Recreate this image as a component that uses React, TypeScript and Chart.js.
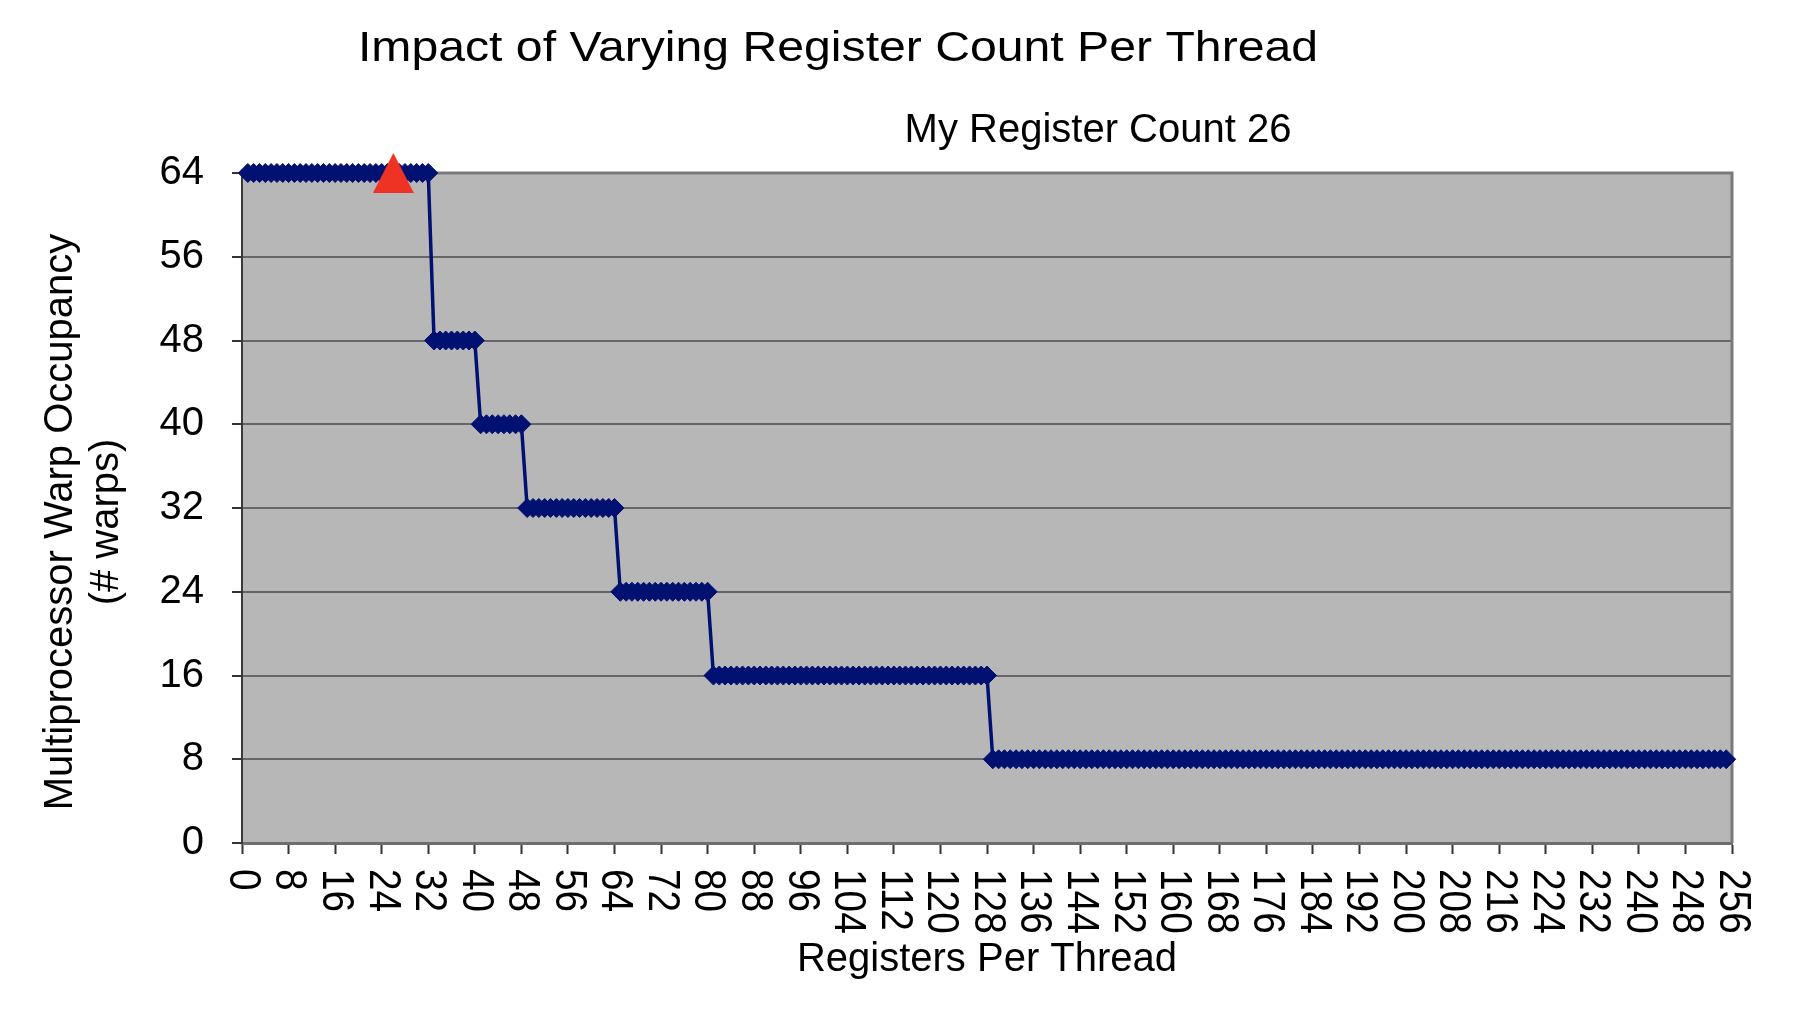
import React, { useEffect, useRef } from 'react';
import { Chart, registerables } from 'chart.js';

Chart.register(...registerables);

// ---- Text ----
const chartTitle = 'Impact of Varying Register Count Per Thread';
const markerLabel = 'My Register Count 26';
const xAxisTitle = 'Registers Per Thread';
const yAxisTitle = ['Multiprocessor Warp Occupancy', '(# warps)'];

// ---- Data ----
const registers = [
  1, 2, 3, 4, 5, 6, 7, 8, 9, 10, 11, 12, 13, 14, 15, 16,
  17, 18, 19, 20, 21, 22, 23, 24, 25, 26, 27, 28, 29, 30, 31, 32,
  33, 34, 35, 36, 37, 38, 39, 40, 41, 42, 43, 44, 45, 46, 47, 48,
  49, 50, 51, 52, 53, 54, 55, 56, 57, 58, 59, 60, 61, 62, 63, 64,
  65, 66, 67, 68, 69, 70, 71, 72, 73, 74, 75, 76, 77, 78, 79, 80,
  81, 82, 83, 84, 85, 86, 87, 88, 89, 90, 91, 92, 93, 94, 95, 96,
  97, 98, 99, 100, 101, 102, 103, 104, 105, 106, 107, 108, 109, 110, 111, 112,
  113, 114, 115, 116, 117, 118, 119, 120, 121, 122, 123, 124, 125, 126, 127, 128,
  129, 130, 131, 132, 133, 134, 135, 136, 137, 138, 139, 140, 141, 142, 143, 144,
  145, 146, 147, 148, 149, 150, 151, 152, 153, 154, 155, 156, 157, 158, 159, 160,
  161, 162, 163, 164, 165, 166, 167, 168, 169, 170, 171, 172, 173, 174, 175, 176,
  177, 178, 179, 180, 181, 182, 183, 184, 185, 186, 187, 188, 189, 190, 191, 192,
  193, 194, 195, 196, 197, 198, 199, 200, 201, 202, 203, 204, 205, 206, 207, 208,
  209, 210, 211, 212, 213, 214, 215, 216, 217, 218, 219, 220, 221, 222, 223, 224,
  225, 226, 227, 228, 229, 230, 231, 232, 233, 234, 235, 236, 237, 238, 239, 240,
  241, 242, 243, 244, 245, 246, 247, 248, 249, 250, 251, 252, 253, 254, 255,
];

const warpOccupancy = [
  64, 64, 64, 64, 64, 64, 64, 64, 64, 64, 64, 64, 64, 64, 64, 64,
  64, 64, 64, 64, 64, 64, 64, 64, 64, 64, 64, 64, 64, 64, 64, 64,
  48, 48, 48, 48, 48, 48, 48, 48, 40, 40, 40, 40, 40, 40, 40, 40,
  32, 32, 32, 32, 32, 32, 32, 32, 32, 32, 32, 32, 32, 32, 32, 32,
  24, 24, 24, 24, 24, 24, 24, 24, 24, 24, 24, 24, 24, 24, 24, 24,
  16, 16, 16, 16, 16, 16, 16, 16, 16, 16, 16, 16, 16, 16, 16, 16,
  16, 16, 16, 16, 16, 16, 16, 16, 16, 16, 16, 16, 16, 16, 16, 16,
  16, 16, 16, 16, 16, 16, 16, 16, 16, 16, 16, 16, 16, 16, 16, 16,
  8, 8, 8, 8, 8, 8, 8, 8, 8, 8, 8, 8, 8, 8, 8, 8,
  8, 8, 8, 8, 8, 8, 8, 8, 8, 8, 8, 8, 8, 8, 8, 8,
  8, 8, 8, 8, 8, 8, 8, 8, 8, 8, 8, 8, 8, 8, 8, 8,
  8, 8, 8, 8, 8, 8, 8, 8, 8, 8, 8, 8, 8, 8, 8, 8,
  8, 8, 8, 8, 8, 8, 8, 8, 8, 8, 8, 8, 8, 8, 8, 8,
  8, 8, 8, 8, 8, 8, 8, 8, 8, 8, 8, 8, 8, 8, 8, 8,
  8, 8, 8, 8, 8, 8, 8, 8, 8, 8, 8, 8, 8, 8, 8, 8,
  8, 8, 8, 8, 8, 8, 8, 8, 8, 8, 8, 8, 8, 8, 8,
];

const myRegisterCount = [26];
const myWarpOccupancy = [64];

const xMin = 0;
const xMax = 256;
const xTickStep = 8;
const yMin = 0;
const yMax = 64;
const yTickStep = 8;

// ---- Styles ----
const FONT = '"Liberation Sans", Arial, Helvetica, sans-serif';
const NAVY = '#001172';
const RED = '#EE3324';
const PLOT_BG = '#B7B7B7';

function makeTriangle(): HTMLCanvasElement {
  const c = document.createElement('canvas');
  c.width = 41;
  c.height = 40;
  const g = c.getContext('2d')!;
  g.fillStyle = RED;
  g.beginPath();
  g.moveTo(20.5, 0);
  g.lineTo(41, 40);
  g.lineTo(0, 40);
  g.closePath();
  g.fill();
  return c;
}

const decorPlugin = {
  id: 'decor',
  beforeDraw(chart: any) {
    const { ctx, chartArea: a } = chart;
    ctx.save();
    ctx.fillStyle = PLOT_BG;
    ctx.fillRect(a.left, a.top, a.right - a.left, a.bottom - a.top);
    ctx.restore();
  },
  beforeDatasetsDraw(chart: any) {
    const { ctx, chartArea: a } = chart;
    ctx.save();
    ctx.strokeStyle = '#7A7A7A';
    ctx.lineWidth = 3;
    ctx.beginPath();
    ctx.moveTo(a.left, a.top);
    ctx.lineTo(a.right, a.top);
    ctx.lineTo(a.right, a.bottom);
    ctx.stroke();
    ctx.restore();
  },
  afterDraw(chart: any) {
    const { ctx, chartArea: a } = chart;
    const xs = chart.scales.x;
    ctx.save();
    ctx.fillStyle = '#000';

    // x tick labels, rotated clockwise (reading downward)
    ctx.font = `40px ${FONT}`;
    ctx.textAlign = 'left';
    ctx.textBaseline = 'middle';
    xs.ticks.forEach((t: any) => {
      const px = xs.getPixelForValue(t.value);
      ctx.save();
      ctx.translate(px, a.bottom + 26);
      ctx.rotate(Math.PI / 2);
      ctx.scale(0.97, 1.1);
      ctx.fillText(String(t.value), 0, 0);
      ctx.restore();
    });

    // y axis title (two lines, reading upward)
    ctx.textAlign = 'center';
    ctx.font = `40px ${FONT}`;
    const yMid = (a.top + a.bottom) / 2 + 14;
    yAxisTitle.forEach((line, i) => {
      ctx.save();
      ctx.translate(53 + i * 46, yMid);
      ctx.rotate(-Math.PI / 2);
      ctx.fillText(line, 0, 0);
      ctx.restore();
    });

    // chart title and marker caption
    ctx.textBaseline = 'alphabetic';
    ctx.save();
    ctx.translate(830, 53);
    ctx.scale(1.12, 1);
    ctx.font = `43px ${FONT}`;
    ctx.fillText(chartTitle, 0, 0);
    ctx.restore();
    ctx.font = `40px ${FONT}`;
    ctx.fillText(markerLabel, 1090, 134);
    ctx.restore();
  },
};

export default function App() {
  const ref = useRef<HTMLCanvasElement>(null);

  useEffect(() => {
    if (!ref.current) return;
    Chart.defaults.font.family = FONT;
    const tri = makeTriangle();
    const lineData = registers.map((x, i) => ({ x, y: warpOccupancy[i] }));
    const markData = myRegisterCount.map((x, i) => ({ x, y: myWarpOccupancy[i] }));

    const chart = new Chart(ref.current, {
      type: 'line',
      data: {
        datasets: [
          {
            label: markerLabel,
            data: markData,
            showLine: false,
            pointStyle: tri as any,
            pointRadius: 20,
            backgroundColor: RED,
            borderColor: RED,
            clip: false as any,
            order: 0,
          },
          {
            label: 'Warp Occupancy',
            data: lineData,
            borderColor: NAVY,
            backgroundColor: NAVY,
            borderWidth: 3.5,
            pointStyle: 'rectRot',
            pointRadius: 9.5,
            pointBorderWidth: 1,
            pointBorderColor: NAVY,
            pointBackgroundColor: NAVY,
            tension: 0,
            clip: false as any,
            order: 1,
          },
        ],
      },
      options: {
        responsive: false,
        devicePixelRatio: 1,
        animation: false,
        events: [],
        layout: { padding: { left: 0, right: 66, top: 165, bottom: 0 } },
        plugins: {
          legend: { display: false },
          tooltip: { enabled: false },
          title: { display: false },
        },
        scales: {
          x: {
            type: 'linear',
            min: xMin,
            max: xMax,
            ticks: { stepSize: xTickStep, display: false, maxTicksLimit: 100 },
            grid: {
              display: true,
              drawOnChartArea: false,
              drawTicks: true,
              tickLength: 11,
              tickColor: '#333',
              tickWidth: 2,
            },
            border: { display: true, color: '#6E6E6E', width: 3 },
            title: {
              display: true,
              text: xAxisTitle,
              color: '#000',
              font: { family: FONT, size: 40, lineHeight: 1.2 },
              padding: { top: 0, bottom: 30 },
            },
            afterFit: (s: any) => {
              s.height = 171;
            },
          },
          y: {
            type: 'linear',
            min: yMin,
            max: yMax,
            ticks: {
              stepSize: yTickStep,
              color: '#000',
              font: { family: FONT, size: 40 },
              padding: 28,
            },
            grid: {
              color: '#666666',
              lineWidth: 2,
              drawTicks: true,
              tickLength: 10,
              tickColor: '#333',
              tickWidth: 2,
            },
            border: { display: true, color: '#3A3A3A', width: 2 },
            title: { display: false },
            afterFit: (s: any) => {
              s.width = 234;
            },
          },
        },
      } as any,
      plugins: [decorPlugin],
    });
    return () => chart.destroy();
  }, []);

  return (
    <canvas
      ref={ref}
      width={1790}
      height={1006}
      style={{ display: 'block', width: 1790, height: 1006 }}
    />
  );
}
